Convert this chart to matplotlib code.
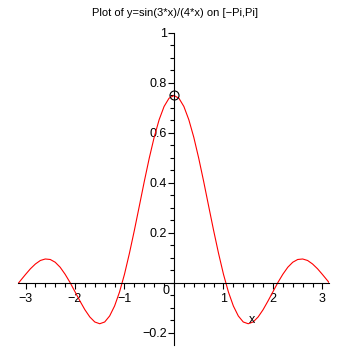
import matplotlib
matplotlib.use('Agg')
import matplotlib.pyplot as plt
from matplotlib import font_manager
from matplotlib.ticker import MultipleLocator

x_vals = [-3.14, -3.1, -3.0, -2.9, -2.8, -2.7, -2.6, -2.5, -2.4, -2.3, -2.2, -2.1,
          -2.0, -1.9, -1.8, -1.7, -1.6, -1.5, -1.4, -1.3, -1.2, -1.1, -1.0, -0.9,
          -0.8, -0.7, -0.6, -0.5, -0.4, -0.3, -0.2, -0.1, 0.0, 0.1, 0.2, 0.3,
          0.4, 0.5, 0.6, 0.7, 0.8, 0.9, 1.0, 1.1, 1.2, 1.3, 1.4, 1.5,
          1.6, 1.7, 1.8, 1.9, 2.0, 2.1, 2.2, 2.3, 2.4, 2.5, 2.6, 2.7,
          2.8, 2.9, 3.0, 3.1, 3.14]
y_vals = [0.000, 0.010, 0.034, 0.057, 0.076, 0.090, 0.096, 0.094, 0.083, 0.063, 0.035, 0.002,
          -0.035, -0.072, -0.107, -0.136, -0.156, -0.163, -0.156, -0.132, -0.092, -0.036, 0.035, 0.119,
          0.211, 0.308, 0.406, 0.499, 0.583, 0.653, 0.706, 0.739, 0.750, 0.739, 0.706, 0.653,
          0.583, 0.499, 0.406, 0.308, 0.211, 0.119, 0.035, -0.036, -0.092, -0.132, -0.156, -0.163,
          -0.156, -0.136, -0.107, -0.072, -0.035, 0.002, 0.035, 0.063, 0.083, 0.094, 0.096, 0.090,
          0.076, 0.057, 0.034, 0.010, 0.000]

circle_pt = (0.0, 0.75)
cross_pt = (1.58, -0.15)

x_ticks = [-3, -2, -1, 1, 2, 3]
x_labels = ['\u22123', '\u22122', '\u22121', '1', '2', '3']
y_ticks = [-0.2, 0.2, 0.4, 0.6, 0.8, 1.0]
y_labels = ['\u22120.2', '0.2', '0.4', '0.6', '0.8', '1']

title = 'Plot of y=sin(3*x)/(4*x) on [\u2212Pi,Pi]'

installed = {f.name for f in font_manager.fontManager.ttflist}
title_font = 'Liberation Sans Narrow' if 'Liberation Sans Narrow' in installed else 'Liberation Sans'
plt.rcParams['font.family'] = ['Liberation Sans', 'DejaVu Sans']

fig = plt.figure(figsize=(3.49, 3.49), dpi=100)
ax = fig.add_axes([0.053, 0.0115, 0.891, 0.894])

ax.plot(x_vals, y_vals, color='red', linewidth=0.8)
ax.plot([circle_pt[0]], [circle_pt[1]], 'o', markerfacecolor='none', markeredgecolor='black',
        markersize=6.5, markeredgewidth=0.8)
ax.text(cross_pt[0], cross_pt[1], 'x', ha='center', va='center', fontsize=9)

for side in ['top', 'right']:
    ax.spines[side].set_visible(False)
ax.spines['left'].set_position(('data', 0))
ax.spines['bottom'].set_position(('data', 0))
ax.spines['left'].set_linewidth(0.8)
ax.spines['bottom'].set_linewidth(0.8)

ax.set_xlim(-3.1416, 3.1416)
ax.set_ylim(-0.248, 1.0)

ax.set_xticks(x_ticks)
ax.set_xticklabels(x_labels)
ax.set_yticks(y_ticks)
ax.set_yticklabels(y_labels)
ax.xaxis.set_minor_locator(MultipleLocator(0.2))
ax.yaxis.set_minor_locator(MultipleLocator(0.05))

ax.tick_params(which='both', direction='out', width=0.8, labelsize=9)
ax.tick_params(which='major', length=4)
ax.tick_params(which='minor', length=3)
ax.tick_params(axis='x', pad=3)
ax.tick_params(axis='y', pad=1)

ax.text(-0.16, -0.032, '0', ha='center', va='center', fontsize=9)

fig.text(0.5, 1 - 13 / 349, title, ha='center', va='center', fontsize=8, family=title_font)

fig.savefig('out.png', dpi=100)
